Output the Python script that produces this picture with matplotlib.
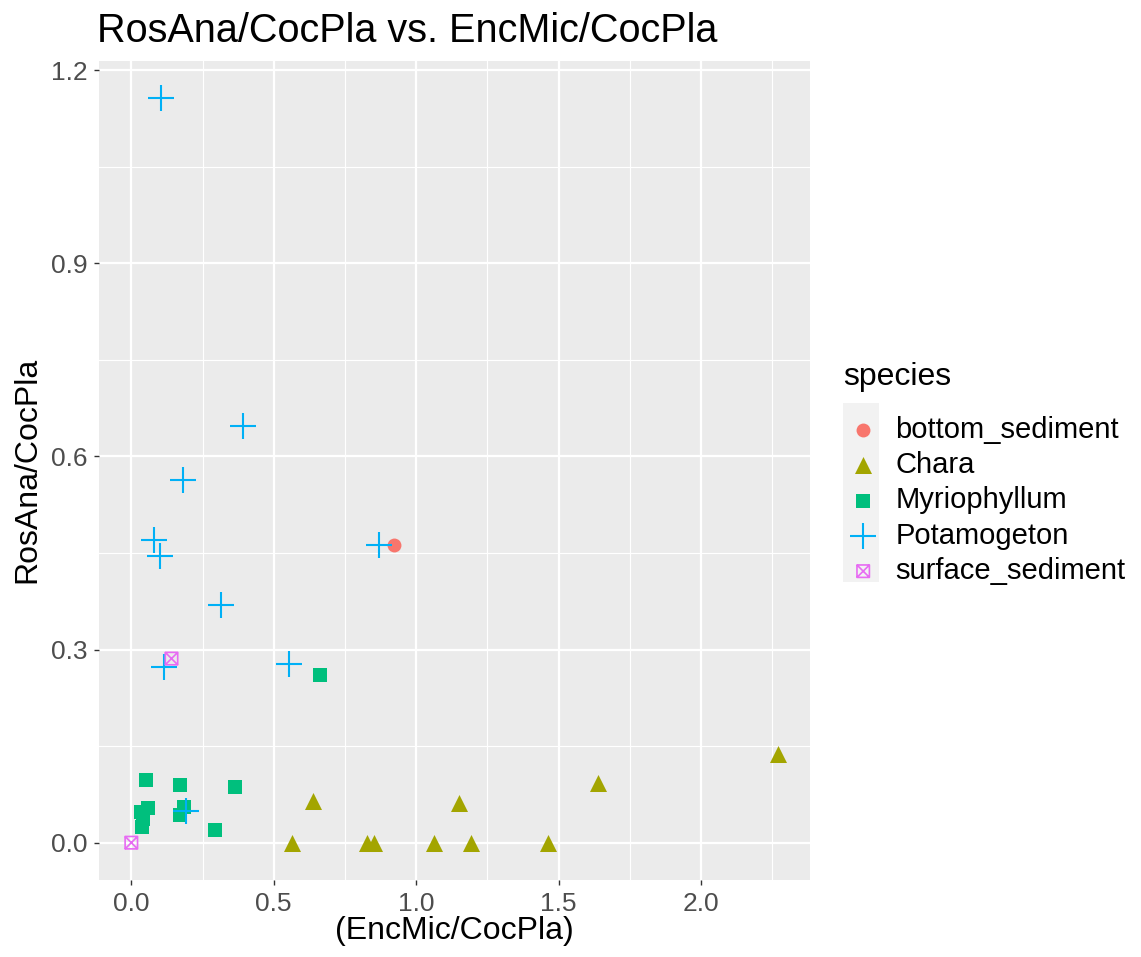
import matplotlib
matplotlib.use("Agg")
import matplotlib.pyplot as plt
from matplotlib.path import Path
from matplotlib.patches import Rectangle
from matplotlib.ticker import MultipleLocator

plt.rcParams['font.family'] = ['Liberation Sans', 'DejaVu Sans']

# data
species = ["bottom_sediment", "Chara", "Myriophyllum", "Potamogeton", "surface_sediment"]
colors = ["#F8766D", "#A3A500", "#00BF7D", "#00B0F6", "#E76BF3"]

bottom_x = [0.923]
bottom_y = [0.462]

chara_x = [0.563, 0.638, 0.828, 0.852, 1.062, 1.152, 1.193, 1.464, 1.639, 2.269]
chara_y = [0.0, 0.065, 0.0, 0.0, 0.0, 0.061, 0.0, 0.0, 0.092, 0.137]

myrio_x = [0.053, 0.170, 0.364, 0.057, 0.034, 0.185, 0.170, 0.039, 0.293, 0.663, 0.040]
myrio_y = [0.097, 0.089, 0.086, 0.054, 0.047, 0.055, 0.043, 0.024, 0.020, 0.261, 0.036]

potam_x = [0.103, 0.391, 0.180, 0.081, 0.102, 0.315, 0.114, 0.554, 0.870, 0.191]
potam_y = [1.157, 0.647, 0.564, 0.470, 0.445, 0.370, 0.273, 0.277, 0.462, 0.049]

surface_x = [0.0, 0.141]
surface_y = [0.0, 0.286]

# square with an X inside (like R's pch 7)
box_x = Path([(-1, -1), (1, -1), (1, 1), (-1, 1), (-1, -1),
              (-1, -1), (1, 1), (-1, 1), (1, -1)],
             [Path.MOVETO, Path.LINETO, Path.LINETO, Path.LINETO, Path.CLOSEPOLY,
              Path.MOVETO, Path.LINETO, Path.MOVETO, Path.LINETO])

fig = plt.figure(figsize=(11.41, 9.57), dpi=100)
ax = fig.add_axes([99 / 1141, 1 - 880 / 957, (810 - 99) / 1141, (880 - 60.6) / 957])
ax.set_facecolor("#EBEBEB")

ax.scatter(bottom_x, bottom_y, marker="o", s=100, color=colors[0], lw=0,
           label=species[0], zorder=3)
ax.scatter(chara_x, chara_y, marker="^", s=150, color=colors[1], lw=0,
           label=species[1], zorder=3)
ax.scatter(myrio_x, myrio_y, marker="s", s=95, color=colors[2], lw=0,
           label=species[2], zorder=3)
ax.scatter(potam_x, potam_y, marker="+", s=330, color=colors[3], lw=1.5,
           label=species[3], zorder=3)
ax.scatter(surface_x, surface_y, marker=box_x, s=80, facecolor="none",
           edgecolor=colors[4], lw=1.2, label=species[4], zorder=3)

ax.set_xlim(-0.1135, 2.383)
ax.set_ylim(-0.058, 1.215)
ax.xaxis.set_major_locator(MultipleLocator(0.5))
ax.xaxis.set_minor_locator(MultipleLocator(0.25))
ax.yaxis.set_major_locator(MultipleLocator(0.3))
ax.yaxis.set_minor_locator(MultipleLocator(0.15))
ax.xaxis.set_major_formatter(plt.FuncFormatter(lambda v, p: f"{v:.1f}"))
ax.yaxis.set_major_formatter(plt.FuncFormatter(lambda v, p: f"{v:.1f}"))

ax.grid(which="major", color="white", lw=1.6)
ax.grid(which="minor", color="white", lw=0.8)
ax.set_axisbelow(True)
for s in ax.spines.values():
    s.set_visible(False)
ax.tick_params(which="major", length=3.5, width=1, color="#333333",
               labelsize=19, labelcolor="#4D4D4D", pad=5)
ax.tick_params(which="minor", length=0)

ax.set_xlabel("(EncMic/CocPla)", fontsize=23, labelpad=0)
ax.set_ylabel("RosAna/CocPla", fontsize=23, labelpad=6)
fig.text(97 / 1141, 1 - 31 / 957, "RosAna/CocPla vs. EncMic/CocPla",
         fontsize=28.5, va="center", ha="left")

# legend: title, grey key column, entries
fig.text(843 / 1141, 1 - 377 / 957, "species", fontsize=23, va="center", ha="left")
fig.patches.append(Rectangle((843 / 1141, 1 - 582 / 957), 36 / 1141, 179 / 957,
                             transform=fig.transFigure, facecolor="#F2F2F2",
                             edgecolor="none", zorder=0))

leg = fig.legend(loc="upper left", bbox_to_anchor=(833 / 1141, 1 - 404 / 957),
                 fontsize=21, frameon=False,
                 handletextpad=0.47, labelspacing=0.25, borderaxespad=0,
                 handlelength=1.27)

plt.savefig("out.png", dpi=100)
